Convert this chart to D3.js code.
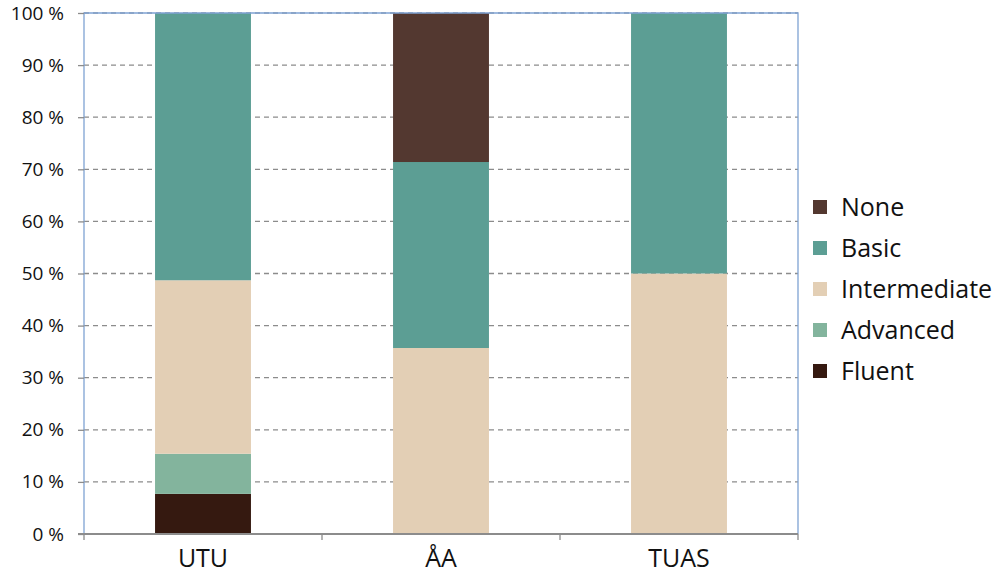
<!DOCTYPE html>
<html>
<head>
<meta charset="utf-8">
<script src="https://cdn.jsdelivr.net/npm/d3@7/dist/d3.min.js"></script>
<style>
  html, body { margin: 0; padding: 0; background: #fff; }
  svg { display: block; font-family: "Open Sans", "DejaVu Sans", sans-serif; }
</style>
</head>
<body>
<svg id="chart" width="1000" height="576"></svg>
<script>
// Language proficiency by institution (share of respondents, %)
const categories = ["UTU", "ÅA", "TUAS"];
const levels = ["Fluent", "Advanced", "Intermediate", "Basic", "None"];
const fluent       = [7.7, 0, 0];
const advanced     = [7.7, 0, 0];
const intermediate = [33.3, 35.7, 50];
const basic        = [51.3, 35.7, 50];
const none         = [0, 28.6, 0];
const yTicks = [0, 10, 20, 30, 40, 50, 60, 70, 80, 90, 100];
const colors = {
  Fluent: "#351910",
  Advanced: "#83b49d",
  Intermediate: "#e3cfb5",
  Basic: "#5c9e94",
  None: "#533830"
};

const rows = categories.map((c, i) => ({
  cat: c,
  Fluent: fluent[i], Advanced: advanced[i], Intermediate: intermediate[i],
  Basic: basic[i], None: none[i]
}));

const svg = d3.select("#chart");
const m = { left: 84, top: 13, right: 202, bottom: 42 };
const W = 1000 - m.left - m.right;
const H = 576 - m.top - m.bottom;
const g = svg.append("g").attr("transform", `translate(${m.left},${m.top})`);

const x = d3.scaleBand().domain(categories).range([0, W]).paddingInner(0.597).paddingOuter(0.2985);
const y = d3.scaleLinear().domain([0, 100]).range([H, 0]);

// Horizontal dashed gridlines
g.append("g").selectAll("line").data(yTicks.filter(t => t > 0)).join("line")
  .attr("x1", 0).attr("x2", W)
  .attr("y1", d => y(d)).attr("y2", d => y(d))
  .attr("stroke", "#8c8c8c").attr("stroke-width", 1.3)
  .attr("stroke-dasharray", "5,4");

// Stacked bars
const stack = d3.stack().keys(levels)(rows);
g.append("g").selectAll("g").data(stack).join("g")
  .attr("fill", d => colors[d.key])
  .selectAll("rect").data(d => d).join("rect")
  .attr("x", d => x(d.data.cat))
  .attr("width", x.bandwidth())
  .attr("y", d => y(d[1]))
  .attr("height", d => y(d[0]) - y(d[1]));

// Plot frame (left, top, right)
g.append("path")
  .attr("d", `M0,${H}V0H${W}V${H}`)
  .attr("fill", "none").attr("stroke", "#7fa3d3").attr("stroke-width", 1.3);

// Y axis labels
const yAxis = g.append("g").call(d3.axisLeft(y).tickValues(yTicks).tickSize(6).tickFormat(d => d + " %"));
yAxis.select(".domain").remove();
yAxis.selectAll(".tick line").attr("stroke", "#8c8c8c").attr("stroke-width", 1.3);
yAxis.selectAll(".tick text").attr("x", -20).attr("font-size", 19).attr("fill", "#111")
  .style("font-family", "'Open Sans', sans-serif");

// X axis with category boundary ticks
const xAxis = g.append("g").attr("transform", `translate(0,${H})`);
xAxis.append("line").attr("x1", -6).attr("x2", W).attr("stroke", "#8c8c8c").attr("stroke-width", 2);
const bounds = d3.range(categories.length + 1).map(i => i * W / categories.length);
xAxis.selectAll("line.tk").data(bounds).join("line").attr("class", "tk")
  .attr("x1", d => d).attr("x2", d => d).attr("y1", 0).attr("y2", 6)
  .attr("stroke", "#8c8c8c").attr("stroke-width", 1.3);
xAxis.selectAll("text").data(categories).join("text")
  .attr("x", d => x(d) + x.bandwidth() / 2).attr("y", 33)
  .attr("text-anchor", "middle").attr("font-size", 25).attr("fill", "#111")
  .text(d => d);

// Legend, top level first
const legend = svg.append("g").attr("transform", "translate(813,207)");
const legendItems = levels.slice().reverse();
const li = legend.selectAll("g").data(legendItems).join("g")
  .attr("transform", (d, i) => `translate(0,${i * 41})`);
li.append("rect").attr("x", 0).attr("y", -7).attr("width", 14).attr("height", 14)
  .attr("fill", d => colors[d]);
li.append("text").attr("x", 28).attr("y", 0).attr("dy", "0.36em")
  .attr("font-size", 25).attr("fill", "#111").text(d => d);
</script>
</body>
</html>
